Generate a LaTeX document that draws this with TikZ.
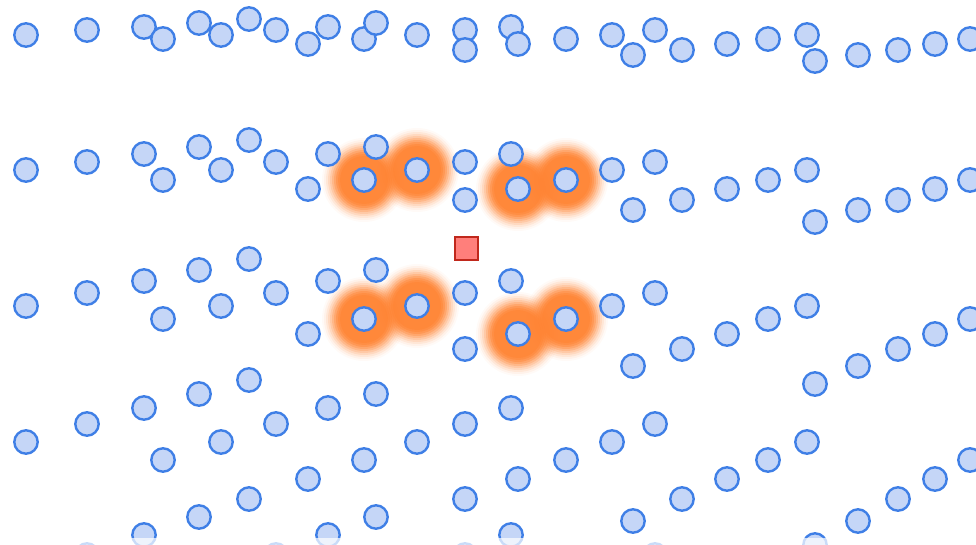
\documentclass[tikz,border=0pt]{standalone}
\definecolor{dotfill}{HTML}{C5D6F7}
\definecolor{dotline}{HTML}{3F7FE6}
\definecolor{glowcol}{HTML}{FF8434}
\definecolor{sqfill}{HTML}{FF7F7B}
\definecolor{sqline}{HTML}{C0281C}
\tikzset{
  dot/.style={circle, draw=dotline, fill=dotfill, line width=2.4pt, minimum size=23.4pt, inner sep=0pt},
  glowlayer/.style={fill=glowcol, opacity=#1},
  marker/.style={draw=sqline, fill=sqfill, line width=2pt, minimum size=23pt, inner sep=0pt, rectangle}
}
\begin{document}
\begin{tikzpicture}[x=1pt,y=-1pt]
\useasboundingbox (0,0) rectangle (976,545);
% glows (soft halos built from layered translucent discs)
\foreach \gx/\gy [count=\k] in {364/180,417/170,518/189,566/180,364/319,417/306,518/334,566/319}
  \foreach \r/\a in {42/0.04,40/0.07,38/0.1,36/0.14,34/0.19,32/0.25,30/0.33,28/0.42,26/0.52,24/0.6}
    \fill[glowlayer=\a] (\gx,\gy) circle (\r);
% circles
\foreach \cx/\ys [count=\j] in {
  26/{35,170,306,442},
  87/{30,162,293,424,555},
  144/{27,154,281,408,535},
  163/{39,180,319,460},
  199/{23,147,270,394,517},
  221/{35,170,306,442},
  249/{19,140,259,380,499},
  276/{30,162,293,424,555},
  308/{44,189,334,479},
  328/{27,154,281,408,535},
  364/{39,180,319,460},
  376/{23,147,270,394,517},
  417/{35,170,306,442},
  465/{30,162,293,424,555},
  465/{50,200,349,499},
  511/{27,154,281,408,535},
  518/{44,189,334,479},
  566/{39,180,319,460},
  612/{35,170,306,442},
  633/{55,210,366,521},
  655/{30,162,293,424,555},
  682/{50,200,349,499},
  727/{44,189,334,479},
  768/{39,180,319,460},
  807/{35,170,306,442},
  815/{61,222,384,545},
  858/{55,210,366,521},
  898/{50,200,349,499},
  935/{44,189,334,479},
  970/{39,180,319,460}}
  \foreach \cy [count=\i] in \ys
    \node[dot] (c\j-\i) at (\cx,\cy) {};
% marker square
\node[marker] (target) at (466,248.5) {};
% faded bottom band
\fill[white, opacity=0.72] (0,538) rectangle (976,545);
\end{tikzpicture}
\end{document}
